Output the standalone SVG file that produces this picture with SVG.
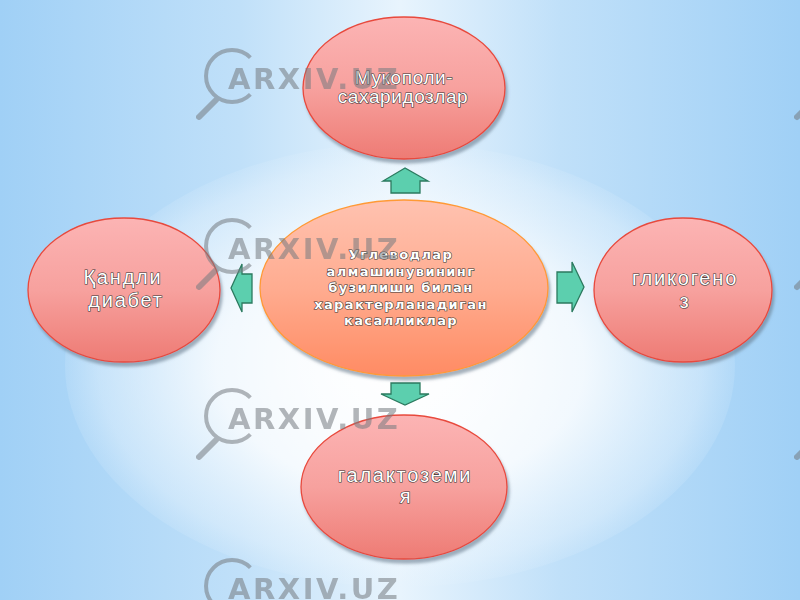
<svg xmlns="http://www.w3.org/2000/svg" xmlns:xlink="http://www.w3.org/1999/xlink" width="800" height="600" viewBox="0 0 800 600">
<defs>
<linearGradient id="bg" x1="0" y1="0" x2="1" y2="0">
<stop offset="0" stop-color="#a0d0f6"/>
<stop offset="0.3" stop-color="#c0e0f9"/>
<stop offset="0.5" stop-color="#e8f4fd"/>
<stop offset="0.7" stop-color="#c0e0f9"/>
<stop offset="1" stop-color="#a0d0f6"/>
</linearGradient>
<radialGradient id="glow" cx="0.5" cy="0.5" r="0.5">
<stop offset="0" stop-color="#ffffff" stop-opacity="1"/>
<stop offset="0.55" stop-color="#ffffff" stop-opacity="0.8"/>
<stop offset="0.9" stop-color="#eef7fe" stop-opacity="0.4"/>
<stop offset="1" stop-color="#e6f3fd" stop-opacity="0.15"/>
</radialGradient>
<linearGradient id="pink" x1="0" y1="0" x2="0" y2="1">
<stop offset="0" stop-color="#fcb4b4"/>
<stop offset="0.5" stop-color="#f7a19e"/>
<stop offset="1" stop-color="#ee7b74"/>
</linearGradient>
<linearGradient id="peach" x1="0" y1="0" x2="0" y2="1">
<stop offset="0" stop-color="#ffc2b0"/>
<stop offset="0.5" stop-color="#ffac90"/>
<stop offset="1" stop-color="#ff8b63"/>
</linearGradient>
<filter id="sh" x="-10%" y="-10%" width="125%" height="130%">
<feDropShadow dx="2" dy="4" stdDeviation="1.5" flood-color="#5f7386" flood-opacity="0.55"/>
</filter>
<g id="wm">
<path d="M18.4,-18.4 A26,26 0 1 0 18.4,18.4" fill="none" stroke="#767b80" stroke-width="4"/>
<line x1="-16" y1="24" x2="-33" y2="41" stroke="#767b80" stroke-width="6" stroke-linecap="round"/>
<text x="-4" y="13" font-family="'DejaVu Sans', sans-serif" font-weight="bold" font-size="29" letter-spacing="2.5" fill="#767b80">ARXIV.UZ</text>
</g>
</defs>
<style>
.node{fill:url(#pink);stroke:#e8493c;stroke-width:1.3;filter:url(#sh)}
.center{fill:url(#peach);stroke:#ff9a36;stroke-width:1.3;filter:url(#sh)}
.lbl{font-family:'Liberation Sans',Arial,sans-serif;fill:#ffffff;stroke:#333333;stroke-width:1.1;paint-order:stroke;text-anchor:middle}
.side{font-size:20px;letter-spacing:1.8px}
.top{font-size:19px;letter-spacing:0.6px}
.ctr{font-family:'DejaVu Sans',sans-serif;font-size:13px;font-weight:bold;letter-spacing:1.4px}
.arrow{fill:#5ccfae;stroke:#2b7a5f;stroke-width:1.3;stroke-linejoin:miter}
</style>
<rect x="0" y="0" width="800" height="600" fill="url(#bg)"/>
<ellipse cx="400" cy="365" rx="335" ry="222" fill="url(#glow)"/>

<g id="connectors">
<path class="arrow" d="M405,168 L383,181 L391,181 L391,193 L420,193 L420,181 L428,181 Z"/>
<path class="arrow" d="M391,383 L420,383 L420,394 L429,394 L405,405 L381,394 L391,394 Z"/>
<path class="arrow" d="M231,288 L242,264 L242,274 L252,274 L252,303 L242,303 L242,312 Z"/>
<path class="arrow" d="M557,272 L572,272 L572,262 L584,287 L572,312 L572,303 L557,303 Z"/>
</g>

<g id="node-top">
<ellipse class="node" cx="404" cy="88" rx="101" ry="71"/>
<text class="lbl top" x="404" y="84">Мукополи-</text>
<text class="lbl top" x="403" y="103">сахаридозлар</text>
</g>

<g id="node-center">
<ellipse class="center" cx="404" cy="288" rx="144" ry="88"/>
<text class="lbl ctr" x="401" y="259">Углеводлар</text>
<text class="lbl ctr" x="401" y="275.5">алмашинувининг</text>
<text class="lbl ctr" x="401" y="292">бузилиши билан</text>
<text class="lbl ctr" x="401" y="308.5">характерланадиган</text>
<text class="lbl ctr" x="401" y="325">касалликлар</text>
</g>

<g id="node-left">
<ellipse class="node" cx="124" cy="290" rx="96" ry="72"/>
<text class="lbl side" x="123" y="284">Қандли</text>
<text class="lbl side" x="126" y="307">диабет</text>
</g>

<g id="node-right">
<ellipse class="node" cx="683" cy="290" rx="89" ry="72"/>
<text class="lbl side" x="685" y="285">гликогено</text>
<text class="lbl side" x="685" y="308">з</text>
</g>

<g id="node-bottom">
<ellipse class="node" cx="404" cy="487" rx="103" ry="72"/>
<text class="lbl side" x="405" y="482">галактоземи</text>
<text class="lbl side" x="406" y="503">я</text>
</g>

<g id="watermarks" opacity="0.55">
<use xlink:href="#wm" x="232" y="76"/>
<use xlink:href="#wm" x="232" y="246"/>
<use xlink:href="#wm" x="232" y="416"/>
<use xlink:href="#wm" x="232" y="586"/>
<use xlink:href="#wm" x="830" y="76"/>
<use xlink:href="#wm" x="830" y="246"/>
<use xlink:href="#wm" x="830" y="416"/>
</g>
</svg>
